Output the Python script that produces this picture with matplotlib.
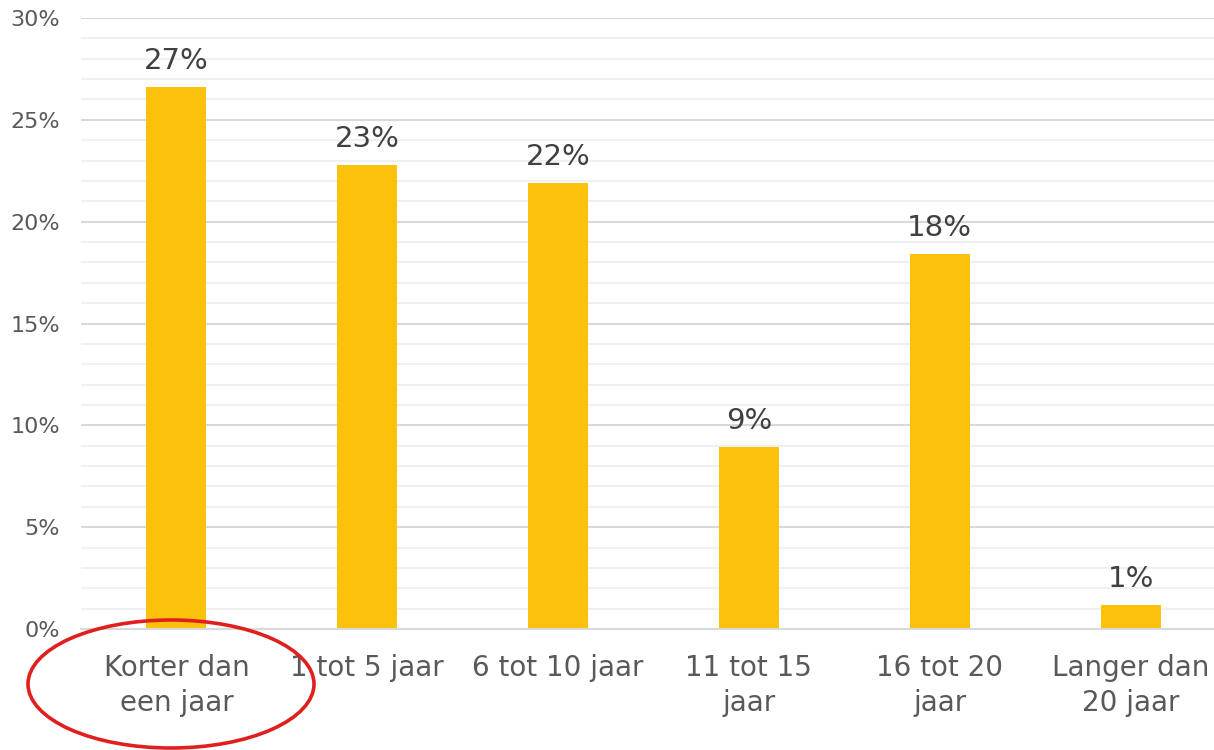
import matplotlib.pyplot as plt
from matplotlib.patches import Ellipse
from matplotlib.ticker import MultipleLocator, FuncFormatter

categories = ["Korter dan\neen jaar", "1 tot 5 jaar", "6 tot 10 jaar",
              "11 tot 15\njaar", "16 tot 20\njaar", "Langer dan\n20 jaar"]
values = [26.6, 22.8, 21.9, 8.95, 18.4, 1.2]
labels = ["27%", "23%", "22%", "9%", "18%", "1%"]

plt.rcParams['font.family'] = ['DejaVu Sans']

fig = plt.figure(figsize=(12.14, 7.5), dpi=100)
ax = fig.add_axes([81 / 1214, 1 - 629 / 750, 1 - 81 / 1214, (629 - 18) / 750])

x = range(len(categories))
ax.bar(x, values, width=0.315, color='#FCC10B', zorder=3)
for i, (v, t) in enumerate(zip(values, labels)):
    ax.annotate(t, (i, v), xytext=(0, 13), textcoords='offset points',
                ha='center', va='baseline', fontsize=21, color='#404040')

ax.set_ylim(0, 30)
ax.set_xlim(-0.5, 5.437)
ax.yaxis.set_major_locator(MultipleLocator(5))
ax.yaxis.set_minor_locator(MultipleLocator(1))
ax.yaxis.set_major_formatter(FuncFormatter(lambda v, p: f"{v:.0f}%"))
ax.grid(axis='y', which='major', color='#d9d9d9', linewidth=1.5, zorder=0)
ax.grid(axis='y', which='minor', color='#f0f0f0', linewidth=1.5, zorder=0)
ax.set_axisbelow(True)

ax.set_xticks(list(x))
ax.set_xticklabels(categories, fontsize=20, color='#595959', linespacing=1.3)
ax.tick_params(axis='x', length=0, pad=18)
ax.tick_params(axis='y', which='both', length=0, pad=15, labelsize=16,
               labelcolor='#595959')

for s in ['top', 'right', 'left']:
    ax.spines[s].set_visible(False)
ax.spines['bottom'].set_color('#d9d9d9')
ax.spines['bottom'].set_linewidth(1.5)
ax.spines['bottom'].set_zorder(4)

# red ellipse highlight around the first category
over = fig.add_axes([0, 0, 1, 1], facecolor='none')
over.set_xlim(0, 1214)
over.set_ylim(750, 0)
over.axis('off')
over.add_patch(Ellipse((171, 684), 286, 128, fill=False,
                       edgecolor='#E0201E', linewidth=2.6))

fig.savefig("out.png", dpi=100)
